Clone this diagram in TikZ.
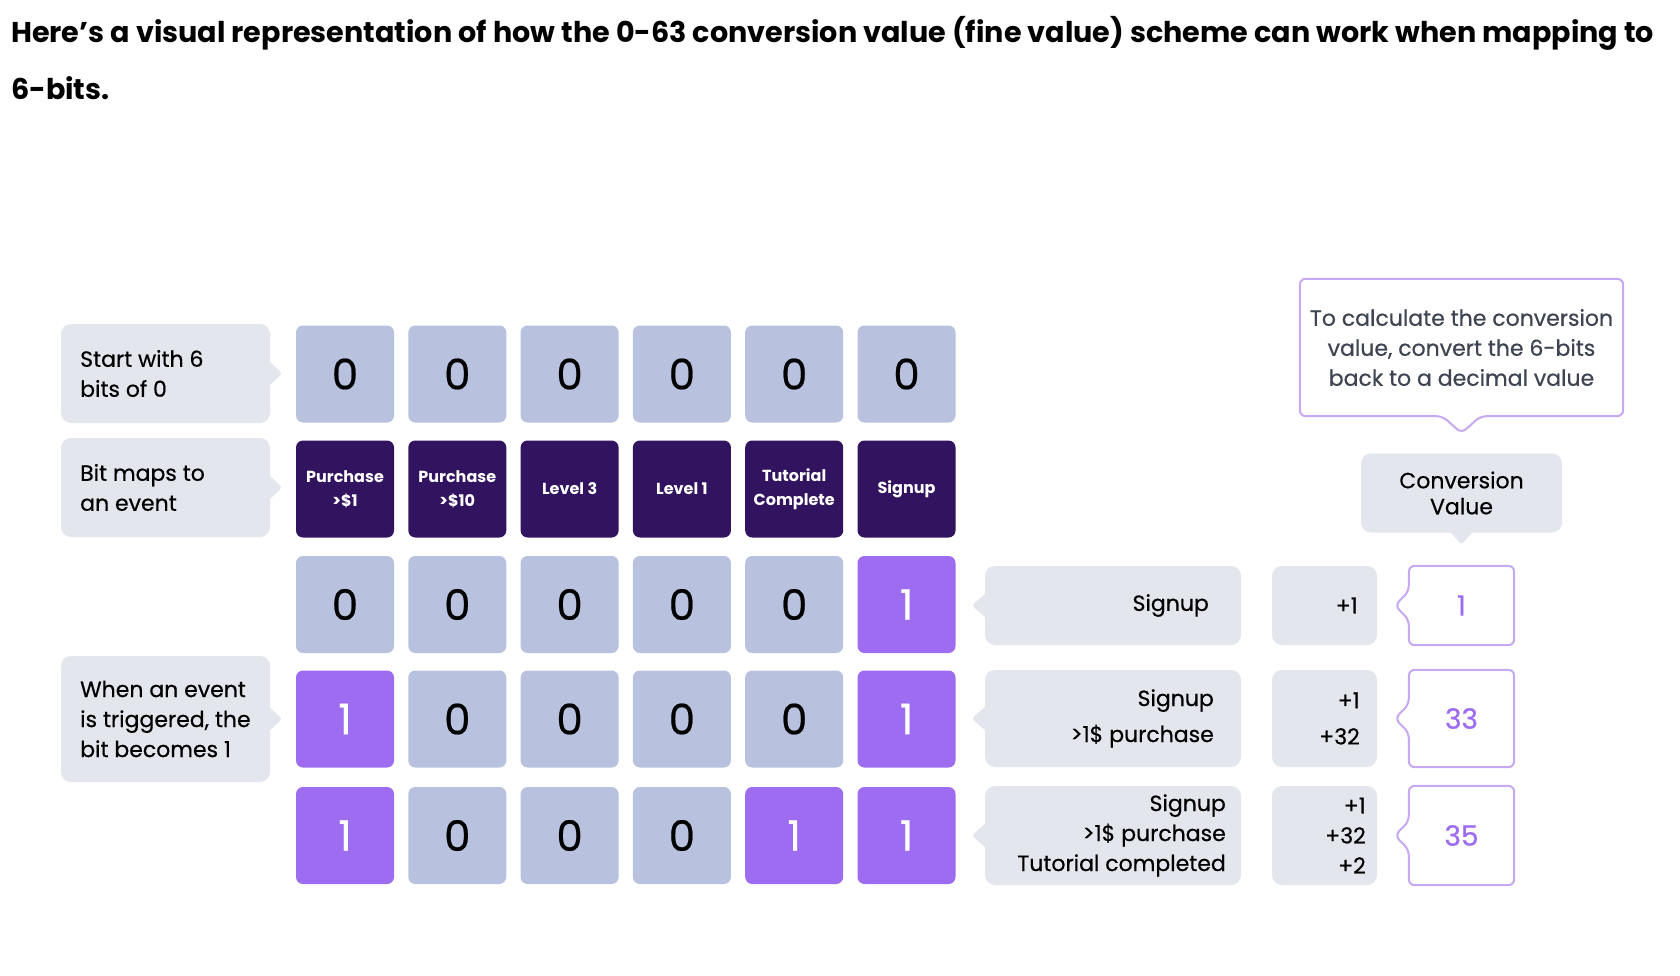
\documentclass[tikz,border=0pt]{standalone}
\usepackage{fontspec}
\usepackage{graphicx}
\setmainfont{Poppins}[UprightFeatures={FakeBold=0.5}]
\usetikzlibrary{calc}
\definecolor{callgray}{HTML}{E4E6EE}
\definecolor{zerobg}{HTML}{B8C1DD}
\definecolor{darkbg}{HTML}{32135F}
\definecolor{onebg}{HTML}{9D6CF0}
\definecolor{vallinec}{HTML}{C7A8F2}
\definecolor{valtext}{HTML}{9D6CF0}
\definecolor{notegray}{HTML}{3E4451}
\newlength\titlelen
\begin{document}
\settowidth{\titlelen}{\bfseries\fontsize{30}{36}\selectfont Here’s a visual representation of how the 0-63 conversion value (fine value) scheme can work when mapping to}
\pgfmathsetmacro\titlescale{1643/\titlelen}
\begin{tikzpicture}[x=1pt,y=-1pt,
  txt/.style={font=\fontsize{22}{30}\selectfont, inner sep=0, text=black},
  callbox/.style={fill=callgray, rounded corners=10, inner sep=0},
  cellbase/.style={rounded corners=7, minimum width=98, minimum height=97, inner sep=0},
  cell0/.style={cellbase, fill=zerobg, text=black, font=\fontsize{42}{42}\selectfont},
  cell1/.style={cellbase, fill=onebg, text=white, font=\fontsize{42}{42}\selectfont},
  evcell/.style={cellbase, fill=darkbg, text=white, align=center, font=\bfseries\fontsize{16}{24}\selectfont},
  valbox/.style={minimum width=105, inner sep=0, text=valtext, font=\fontsize{28}{28}\selectfont},
  valline/.style={draw=vallinec, line width=2, rounded corners=6},
  ptr/.style={fill=callgray, rounded corners=3},
]
\fill[white] (0,0) rectangle (1680,976);
\useasboundingbox (0,0) rectangle (1680,976);

% title
\node[anchor=base west, inner sep=0] (title1) at (11,43) {\scalebox{\titlescale}{\bfseries\fontsize{30}{36}\selectfont Here’s a visual representation of how the 0-63 conversion value (fine value) scheme can work when mapping to}};
\node[anchor=base west, inner sep=0] (title2) at (11,100) {\scalebox{\titlescale}{\bfseries\fontsize{30}{36}\selectfont 6-bits.}};

% left callouts
\node[callbox, minimum width=209, minimum height=99] (L1) at (165.5,373.5) {};
\node[callbox, minimum width=209, minimum height=99] (L2) at (165.5,487.5) {};
\node[callbox, minimum width=209, minimum height=126] (L3) at (165.5,719) {};
\foreach \n in {L1,L2,L3}{
  \fill[ptr] ($(\n.east)+(-3,-14)$) -- ($(\n.east)+(12,0)$) -- ($(\n.east)+(-3,14)$) -- cycle;
}
\node[txt, anchor=west, align=left] (L1t) at (80,373.5) {Start with 6\\bits of 0};
\node[txt, anchor=west, align=left] (L2t) at (80,487.5) {Bit maps to\\an event};
\node[txt, anchor=west, align=left] (L3t) at (80,719) {When an event\\is triggered, the\\bit becomes 1};

% bit rows
\foreach \b [count=\i] in {0,0,0,0,0,0}
  \node[cell\b] (a\i) at ({345+112.3*(\i-1)},374) {\b};
\foreach \t [count=\i] in {{Purchase\\>\$1},{Purchase\\>\$10},{Level 3},{Level 1},{Tutorial\\Complete},{Signup}}
  \node[evcell] (b\i) at ({345+112.3*(\i-1)},489) {\t};
\foreach \b [count=\i] in {0,0,0,0,0,1}
  \node[cell\b] (c\i) at ({345+112.3*(\i-1)},604.5) {\b};
\foreach \b [count=\i] in {1,0,0,0,0,1}
  \node[cell\b] (d\i) at ({345+112.3*(\i-1)},719) {\b};
\foreach \b [count=\i] in {1,0,0,0,1,1}
  \node[cell\b] (e\i) at ({345+112.3*(\i-1)},835.5) {\b};

% event boxes
\node[callbox, minimum width=256, minimum height=79] (E3) at (1113,605.5) {};
\node[callbox, minimum width=256, minimum height=97] (E4) at (1113,718.5) {};
\node[callbox, minimum width=256, minimum height=99] (E5) at (1113,835.5) {};
\foreach \n in {E3,E4,E5}{
  \fill[ptr] ($(\n.west)+(3,-14)$) -- ($(\n.west)+(-13,0)$) -- ($(\n.west)+(3,14)$) -- cycle;
}
\node[txt, anchor=east, align=right] (E3t) at (1209,605.5) {Signup};
\node[txt, anchor=east, align=right, font=\fontsize{22}{36}\selectfont] (E4t) at (1214,718.5) {Signup\\>1\$ purchase};
\node[txt, anchor=east, align=right] (E5t) at (1226,835.5) {Signup\\>1\$ purchase\\Tutorial completed};

% plus boxes
\node[callbox, minimum width=105, minimum height=79] (P3) at (1324.5,605.5) {};
\node[callbox, minimum width=105, minimum height=97] (P4) at (1324.5,718.5) {};
\node[callbox, minimum width=105, minimum height=99] (P5) at (1324.5,835.5) {};
\node[txt, anchor=east, align=right] (P3t) at (1358,605.5) {+1};
\node[txt, anchor=east, align=right, font=\fontsize{22}{36}\selectfont] (P4t) at (1360,718.5) {+1\\+32};
\node[txt, anchor=east, align=right] (P5t) at (1366,835.5) {+1\\+32\\+2};

% value boxes
\node[valbox, minimum height=79] (V3) at (1461.5,605.5) {1};
\node[valbox, minimum height=97] (V4) at (1461.5,718.5) {33};
\node[valbox, minimum height=99] (V5) at (1461.5,835.5) {35};
\foreach \n in {V3,V4,V5}{
  \draw[valline] (\n.north) -- (\n.north east) -- (\n.south east) -- (\n.south west)
    -- ($(\n.west)+(0,14)$) -- ($(\n.west)+(-14,0)$) -- ($(\n.west)+(0,-14)$) -- (\n.north west) -- cycle;
}

% conversion value header
\node[callbox, minimum width=201, minimum height=79, font=\fontsize{22}{26}\selectfont, align=center] (CV) at (1461.5,493) {Conversion\\Value};
\fill[ptr] ($(CV.south)+(-13,-3)$) -- ($(CV.south)+(0,12)$) -- ($(CV.south)+(13,-3)$) -- cycle;

% note callout
\node[txt, text=notegray, align=center, minimum width=323, minimum height=137] (N) at (1461.5,347.5) {To calculate the conversion\\value, convert the 6-bits\\back to a decimal value};
\draw[valline] (N.north) -- (N.north east) -- (N.south east) -- ($(N.south)+(19,0)$) -- ($(N.south)+(0,17)$)
  -- ($(N.south)+(-19,0)$) -- (N.south west) -- (N.north west) -- cycle;
\end{tikzpicture}
\end{document}
